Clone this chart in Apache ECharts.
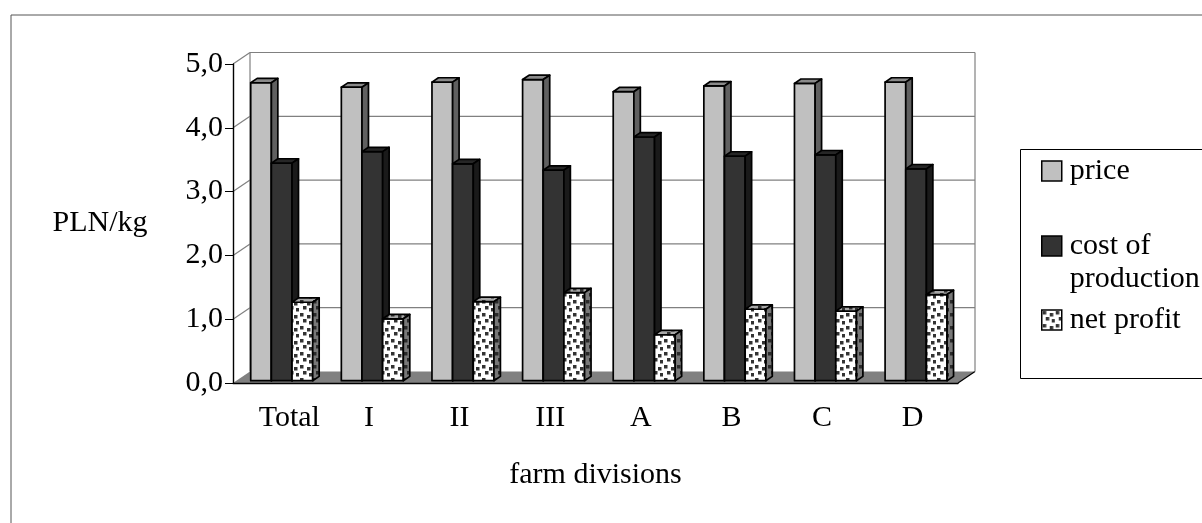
<!DOCTYPE html>
<html>
<head>
<meta charset="utf-8">
<title>Price, cost of production and net profit by farm division</title>
<script src="https://cdn.jsdelivr.net/npm/echarts@6/dist/echarts.min.js"></script>
<style>
  html, body { margin: 0; padding: 0; background: #ffffff; }
  #chart { width: 1202px; height: 523px; }
</style>
</head>
<body>
<div id="chart"></div>
<script>
// ---- data -------------------------------------------------------------
const categories = ['Total', 'I', 'II', 'III', 'A', 'B', 'C', 'D'];
const price      = [4.67, 4.60, 4.68, 4.72, 4.53, 4.62, 4.66, 4.68];
const cost       = [3.41, 3.59, 3.40, 3.30, 3.82, 3.52, 3.54, 3.32];
const netProfit  = [1.23, 0.97, 1.24, 1.38, 0.72, 1.12, 1.09, 1.35];
const yTicks      = [0, 1, 2, 3, 4, 5];
const yTickLabels = ['0,0', '1,0', '2,0', '3,0', '4,0', '5,0'];
const seriesNames = ['price', 'cost of production', 'net profit'];

// ---- 3-D look ---------------------------------------------------------
const FONT = "'Liberation Serif', 'Times New Roman', serif";
const DEPTH = [17, -11.5];   // offset from front plane to back wall
const BAR_Z = 0.2;           // where the bar fronts sit inside the depth
const BAR_D = 0.38;          // bar thickness as a share of the depth
const BAR_RATIO = 0.228;     // one bar's width as a share of a category

// dotted fill used by the net profit bars
function dotPattern(bg, dot) {
  const c = document.createElement('canvas');
  c.width = 13; c.height = 13;
  const g = c.getContext('2d');
  g.fillStyle = bg; g.fillRect(0, 0, 13, 13);
  g.fillStyle = dot;
  [[1, 1], [8, 3], [4, 7], [10, 9]].forEach(p => g.fillRect(p[0], p[1], 3.5, 3.5));
  return { image: c, repeat: 'repeat' };
}

const faces = [
  { front: '#c0c0c0', top: '#8a8a8a', side: '#606060' },
  { front: '#333333', top: '#262626', side: '#1a1a1a' },
  { front: dotPattern('#ffffff', '#333333'),
    top: dotPattern('#a8a8a8', '#333333'),
    side: dotPattern('#787878', '#2a2a2a') }
];

function barRenderer(slot) {
  const f = faces[slot];
  return function (params, api) {
    const i = api.value(0), v = api.value(1);
    const catW = api.size([1, 0])[0];
    const base = api.coord([i, 0]);
    const top = api.coord([i, v]);
    const bw = catW * BAR_RATIO;
    const sx = DEPTH[0] * BAR_Z, sy = DEPTH[1] * BAR_Z;
    const dx = DEPTH[0] * BAR_D, dy = DEPTH[1] * BAR_D;
    const x0 = base[0] - 1.5 * bw + slot * bw + sx;
    const x1 = x0 + bw;
    const yb = base[1] + sy, yt = top[1] + sy;
    const edge = { stroke: '#000000', lineWidth: 1.7, lineJoin: 'round' };
    return {
      type: 'group',
      children: [
        { type: 'polygon', shape: { points: [[x0, yb], [x1, yb], [x1, yt], [x0, yt]] },
          style: Object.assign({ fill: f.front }, edge) },
        { type: 'polygon', shape: { points: [[x0, yt], [x1, yt], [x1 + dx, yt + dy], [x0 + dx, yt + dy]] },
          style: Object.assign({ fill: f.top }, edge) },
        { type: 'polygon', shape: { points: [[x1, yb], [x1 + dx, yb + dy], [x1 + dx, yt + dy], [x1, yt]] },
          style: Object.assign({ fill: f.side }, edge) }
      ]
    };
  };
}

// floor, back wall gridlines and left wall diagonals, one item per y tick
function wallRenderer(params, api) {
  const v = api.value(1);
  const n = categories.length;
  const catW = api.size([1, 0])[0];
  const yMax = yTicks[yTicks.length - 1];
  const L = [api.coord([0, v])[0] - catW / 2, api.coord([0, v])[1]];
  const R = [api.coord([n - 1, v])[0] + catW / 2, L[1]];
  const Lb = [L[0] + DEPTH[0], L[1] + DEPTH[1]];
  const Rb = [R[0] + DEPTH[0], R[1] + DEPTH[1]];
  const grey = { stroke: '#808080', lineWidth: 1.2 };
  const kids = [];
  if (v === 0) {
    kids.push({ type: 'polygon', shape: { points: [L, R, Rb, Lb] },
      style: { fill: '#808080', stroke: null } });
    kids.push({ type: 'line', shape: { x1: R[0], y1: R[1], x2: Rb[0], y2: Rb[1] },
      style: { stroke: '#000000', lineWidth: 1.2 } });
  } else {
    kids.push({ type: 'line', shape: { x1: Lb[0], y1: Lb[1], x2: Rb[0], y2: Rb[1] }, style: grey });
    kids.push({ type: 'line', shape: { x1: L[0], y1: L[1], x2: Lb[0], y2: Lb[1] }, style: grey });
  }
  if (v === yMax) {
    const y0 = api.coord([0, 0])[1] + DEPTH[1];
    kids.push({ type: 'line', shape: { x1: Lb[0], y1: Lb[1], x2: Lb[0], y2: y0 }, style: grey });
    kids.push({ type: 'line', shape: { x1: Rb[0], y1: Rb[1], x2: Rb[0], y2: y0 }, style: grey });
  }
  return { type: 'group', children: kids };
}

const legendStyles = [
  { color: faces[0].front, borderColor: '#000', borderWidth: 1.5 },
  { color: faces[1].front, borderColor: '#000', borderWidth: 1.5 },
  { color: faces[2].front, borderColor: '#000', borderWidth: 1.5 }
];
const legendTops = [154.5, 196.5, 303.5];
const legendText = ['price', '\ncost of\nproduction', 'net profit'];

const chart = echarts.init(document.getElementById('chart'));
chart.setOption({
  animation: false,
  backgroundColor: '#ffffff',
  textStyle: { fontFamily: FONT, color: '#000000' },
  grid: { left: 233, top: 64, width: 725, height: 319 },
  xAxis: {
    type: 'category',
    data: categories.map((c, i) => i === 0 ? { value: c, textStyle: { padding: [0, 0, 0, 22] } } : c),
    z: 5,
    axisLine: { lineStyle: { color: '#000000', width: 1.4 } },
    axisTick: { lineStyle: { color: '#000000' }, length: 5 },
    axisLabel: { fontFamily: FONT, fontSize: 30, color: '#000000', margin: 19, lineHeight: 33 },
    name: 'farm divisions',
    nameLocation: 'middle',
    nameGap: 92,
    nameTextStyle: { fontFamily: FONT, fontSize: 30, color: '#000000', verticalAlign: 'middle', lineHeight: 33 },
    splitLine: { show: false }
  },
  yAxis: {
    type: 'value',
    min: 0, max: 5, interval: 1,
    z: 5,
    axisLine: { show: true, lineStyle: { color: '#000000', width: 1.4 } },
    axisTick: { show: true, length: 8, lineStyle: { color: '#000000' } },
    axisLabel: {
      fontFamily: FONT, fontSize: 30, color: '#000000', margin: 10,
      formatter: v => yTickLabels[yTicks.indexOf(v)]
    },
    splitLine: { show: false },
    name: 'PLN/kg',
    nameLocation: 'middle',
    nameRotate: 0,
    nameGap: 133,
    nameTextStyle: { fontFamily: FONT, fontSize: 30, color: '#000000', align: 'center',
      verticalAlign: 'middle', padding: [0, 0, 13, 0] }
  },
  legend: seriesNames.map((name, k) => ({
    left: 1041,
    top: legendTops[k],
    orient: 'vertical',
    padding: 0,
    itemWidth: 20,
    itemHeight: 20,
    selectedMode: false,
    formatter: () => legendText[k],
    textStyle: { fontFamily: FONT, fontSize: 30, color: '#000000', lineHeight: 33, padding: [0, 0, 0, 3] },
    data: [{ name: name, icon: 'rect', itemStyle: legendStyles[k] }]
  })),
  graphic: [
    { type: 'rect', silent: true, z: -10,
      shape: { x: 11, y: 15, width: 1300, height: 600 },
      style: { fill: null, stroke: '#555555', lineWidth: 1 } },
    { type: 'rect', silent: true, z: -10,
      shape: { x: 1020.5, y: 149.5, width: 300, height: 229 },
      style: { fill: null, stroke: '#000000', lineWidth: 1 } }
  ],
  series: [
    { type: 'custom', name: 'walls', z: 1, silent: true,
      renderItem: wallRenderer, encode: { x: 0, y: 1 },
      data: yTicks.map(v => [0, v]) },
    { type: 'custom', name: seriesNames[0], z: 2, renderItem: barRenderer(0),
      encode: { x: 0, y: 1 }, data: price.map((v, i) => [i, v]) },
    { type: 'custom', name: seriesNames[1], z: 2, renderItem: barRenderer(1),
      encode: { x: 0, y: 1 }, data: cost.map((v, i) => [i, v]) },
    { type: 'custom', name: seriesNames[2], z: 2, renderItem: barRenderer(2),
      encode: { x: 0, y: 1 }, data: netProfit.map((v, i) => [i, v]) }
  ]
});
</script>
</body>
</html>
